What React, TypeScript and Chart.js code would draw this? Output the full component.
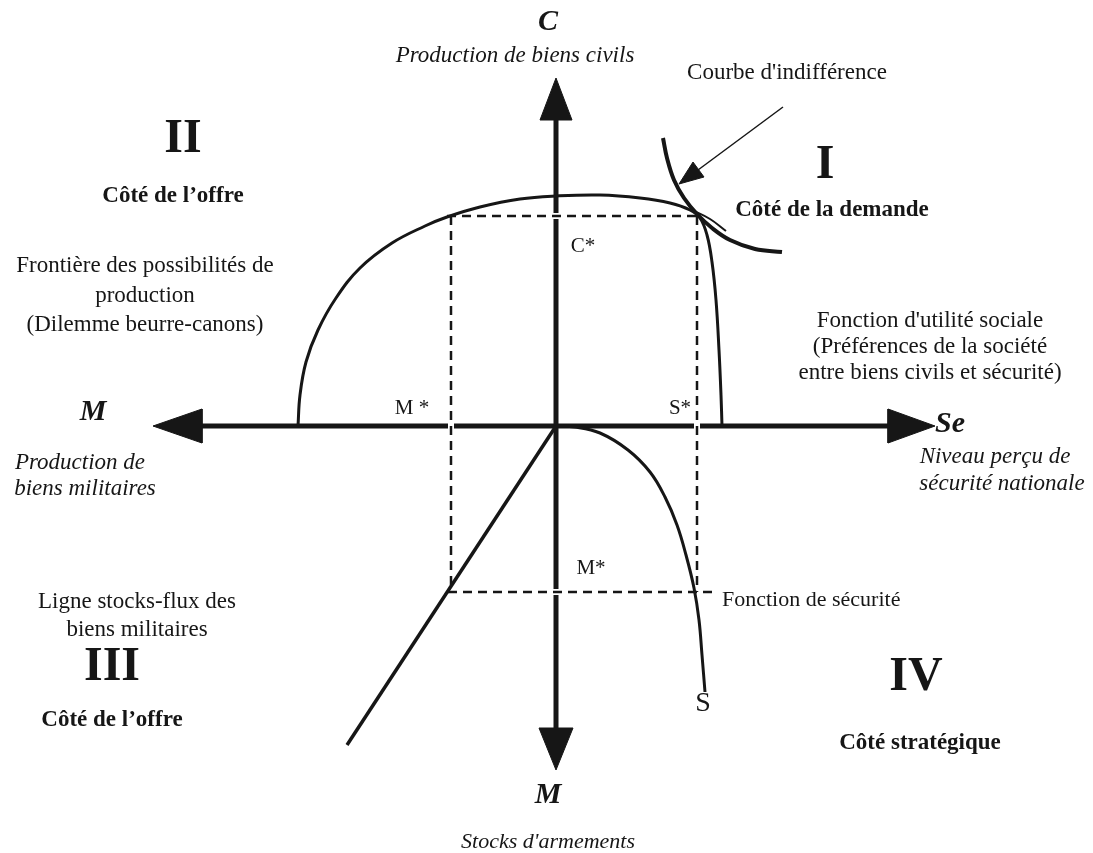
import React, { useEffect, useRef } from "react";
import { Chart, registerables } from "chart.js";

Chart.register(...registerables);

// Data space: origin at the crossing of the two axes, x to the right, y upward.
const X_RANGE = [-556, 537];
const Y_RANGE = [-427, 426];

// Quadrants I/II: production possibilities frontier (butter-guns dilemma)
const ppfCurve = [
  [-258, 0], [-256, 31], [-250, 64], [-238, 96], [-220, 128], [-196, 158],
  [-164, 183], [-131, 200], [-109, 209], [-76, 219], [-36, 227], [0, 230],
  [44, 231], [84, 228], [114, 223], [134, 216], [144, 208], [151, 191],
  [156, 164], [160, 126], [163, 76], [165, 31], [166, 0],
];
// small tail of the frontier past the tangency point
const ppfTail = [[136, 216], [154, 207], [170, 195]];

// Quadrant I: indifference curve (social utility function)
const indifferenceCurve = [
  [107, 288], [111, 268], [118, 246], [128, 228], [141, 212], [156, 198],
  [174, 186], [199, 177], [226, 174],
];

// Quadrant IV: security function S
const securityCurve = [
  [0, 0], [19, -1], [44, -7], [72, -24], [94, -46], [109, -71], [121, -99],
  [130, -129], [138, -162], [143, -194], [146, -229], [149, -266],
];

// Quadrant III: stocks-flows line of military goods
const stockFlowLine = [[0, 0], [-209, -319]];

// Equilibrium values
const M_STAR = -105;
const S_STAR = 141;
const C_STAR = 210;
const M_STOCK_STAR = -166;

// Axes
const hAxis = [[-356, 0], [336, 0]];
const vAxis = [[0, 306], [0, -304]];
const arrowLeft = [[-403, 0], [-354, 17], [-354, -17], [-403, 0]];
const arrowRight = [[379, 0], [332, 17], [332, -17], [379, 0]];
const arrowUp = [[0, 348], [-16, 306], [16, 306], [0, 348]];
const arrowDown = [[0, -344], [-17, -302], [17, -302], [0, -344]];

// Pointer to the indifference curve
const pointerLine = [[227, 319], [142, 256]];
const pointerHead = [[123, 242], [148, 249], [137, 264], [123, 242]];

// Dashed equilibrium rectangle
const dashTop = [[-109, C_STAR], [S_STAR + 3, C_STAR]];
const dashLeft = [[M_STAR, C_STAR], [M_STAR, M_STOCK_STAR]];
const dashRight = [[S_STAR, C_STAR], [S_STAR, M_STOCK_STAR]];
const dashBottom = [[-108, M_STOCK_STAR], [162, M_STOCK_STAR]];

// white breaks where dashed lines cross the axes
const gapMarks = [
  [[M_STAR, 6], [M_STAR, -6]],
  [[S_STAR, 6], [S_STAR, -6]],
  [[-6, C_STAR], [6, C_STAR]],
  [[-6, M_STOCK_STAR], [6, M_STOCK_STAR]],
];

type Label = { text: string; x: number; y: number; size: number; style: string; align?: CanvasTextAlign };

const LABELS: Label[] = [
  { text: "C", x: -8, y: 404, size: 30, style: "italic bold" },
  { text: "Production de biens civils", x: -41, y: 370, size: 23, style: "italic" },
  { text: "Courbe d'indifférence", x: 231, y: 353, size: 23, style: "normal" },
  { text: "II", x: -373, y: 286, size: 48, style: "bold" },
  { text: "Côté de l’offre", x: -383, y: 230, size: 23, style: "bold" },
  { text: "I", x: 269, y: 260, size: 48, style: "bold" },
  { text: "Côté de la demande", x: 276, y: 216, size: 23, style: "bold" },
  { text: "Frontière des possibilités de", x: -411, y: 160, size: 23, style: "normal" },
  { text: "production", x: -411, y: 130, size: 23, style: "normal" },
  { text: "(Dilemme beurre-canons)", x: -411, y: 101, size: 23, style: "normal" },
  { text: "Fonction d'utilité sociale", x: 374, y: 105, size: 23, style: "normal" },
  { text: "(Préférences de la société", x: 374, y: 79, size: 23, style: "normal" },
  { text: "entre biens civils et sécurité)", x: 374, y: 53, size: 23, style: "normal" },
  { text: "M", x: -463, y: 14, size: 30, style: "italic bold" },
  { text: "M *", x: -144, y: 18, size: 21, style: "normal" },
  { text: "S*", x: 124, y: 18, size: 21, style: "normal" },
  { text: "C*", x: 27, y: 180, size: 21, style: "normal" },
  { text: "Se", x: 394, y: 2, size: 30, style: "italic bold" },
  { text: "Production de", x: -476, y: -37, size: 23, style: "italic" },
  { text: "biens militaires", x: -471, y: -63, size: 23, style: "italic" },
  { text: "Niveau perçu de", x: 439, y: -31, size: 23, style: "italic" },
  { text: "sécurité nationale", x: 446, y: -58, size: 23, style: "italic" },
  { text: "M*", x: 35, y: -142, size: 21, style: "normal" },
  { text: "Fonction de sécurité", x: 166, y: -174, size: 22, style: "normal", align: "left" },
  { text: "Ligne stocks-flux des", x: -419, y: -176, size: 23, style: "normal" },
  { text: "biens militaires", x: -419, y: -204, size: 23, style: "normal" },
  { text: "III", x: -444, y: -242, size: 48, style: "bold" },
  { text: "Côté de l’offre", x: -444, y: -294, size: 23, style: "bold" },
  { text: "S", x: 147, y: -278, size: 28, style: "normal" },
  { text: "IV", x: 360, y: -252, size: 48, style: "bold" },
  { text: "Côté stratégique", x: 364, y: -317, size: 23, style: "bold" },
  { text: "M", x: -8, y: -369, size: 30, style: "italic bold" },
  { text: "Stocks d'armements", x: -8, y: -416, size: 22, style: "italic" },
];

const INK = "#161616";
const FONT = '"Liberation Serif", "Times New Roman", "DejaVu Serif", serif';

const toPts = (a: number[][]) => a.map(([x, y]) => ({ x, y }));

function line(pts: number[][], width: number, order: number, extra: Record<string, unknown> = {}) {
  return {
    data: toPts(pts),
    borderColor: INK,
    backgroundColor: INK,
    borderWidth: width,
    pointRadius: 0,
    pointHoverRadius: 0,
    fill: false,
    tension: 0,
    order,
    borderCapStyle: "butt",
    borderJoinStyle: "round",
    ...extra,
  };
}

function head(pts: number[][]) {
  return line(pts, 1, 9, { fill: "shape", borderJoinStyle: "miter" });
}

const labelsPlugin = {
  id: "diagramLabels",
  afterDatasetsDraw(chart: any) {
    const { ctx, scales } = chart;
    ctx.save();
    ctx.fillStyle = INK;
    ctx.textBaseline = "middle";
    for (const l of LABELS) {
      ctx.font = `${l.style} ${l.size}px ${FONT}`;
      ctx.textAlign = l.align ?? "center";
      ctx.fillText(l.text, scales.x.getPixelForValue(l.x), scales.y.getPixelForValue(l.y));
    }
    ctx.restore();
  },
};

export default function App() {
  const ref = useRef<HTMLCanvasElement | null>(null);

  useEffect(() => {
    if (!ref.current) return;
    const datasets: any[] = [
      line(hAxis, 5, 10),
      line(vAxis, 5, 10),
      head(arrowLeft),
      head(arrowRight),
      head(arrowUp),
      head(arrowDown),
      ...gapMarks.map((g) => line(g, 6, 6, { borderColor: "#ffffff" })),
      line(ppfCurve, 3, 3, { tension: 0.4 }),
      line(ppfTail, 2, 3, { tension: 0.4 }),
      line(indifferenceCurve, 4, 3, { tension: 0.4 }),
      line(securityCurve, 3, 3, { tension: 0.4 }),
      line(stockFlowLine, 3.5, 3),
      line(pointerLine, 1.5, 3),
      head(pointerHead),
      line(dashTop, 2.5, 1, { borderDash: [9, 6] }),
      line(dashLeft, 2.5, 1, { borderDash: [9, 6] }),
      line(dashRight, 2.5, 1, { borderDash: [9, 6] }),
      line(dashBottom, 2.5, 1, { borderDash: [9, 6] }),
    ];
    const chart = new Chart(ref.current, {
      type: "line",
      data: { datasets },
      options: {
        responsive: false,
        maintainAspectRatio: false,
        animation: false,
        events: [],
        layout: { padding: 0 },
        plugins: { legend: { display: false }, tooltip: { enabled: false } },
        scales: {
          x: { type: "linear", min: X_RANGE[0], max: X_RANGE[1], display: false },
          y: { type: "linear", min: Y_RANGE[0], max: Y_RANGE[1], display: false },
        },
      },
      plugins: [labelsPlugin],
    } as any);
    return () => chart.destroy();
  }, []);

  return (
    <div style={{ position: "absolute", left: 0, top: 0, width: 1093, height: 853, background: "#fff" }}>
      <canvas ref={ref} width={1093} height={853} style={{ display: "block" }} />
    </div>
  );
}
